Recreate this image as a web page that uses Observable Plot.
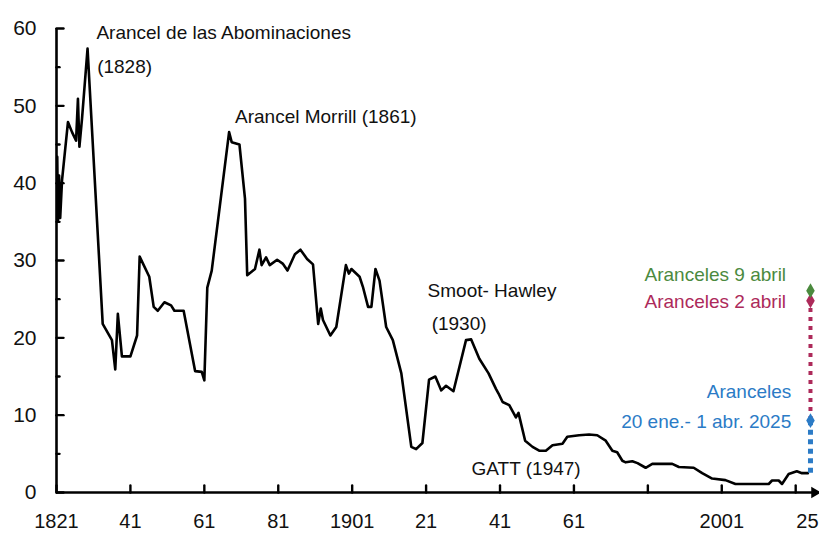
<!DOCTYPE html>
<html>
<head>
<meta charset="utf-8">
<script src="https://cdn.jsdelivr.net/npm/d3@7"></script>
<script src="https://cdn.jsdelivr.net/npm/@observablehq/plot@0.6"></script>
<style>
  html, body { margin: 0; padding: 0; background: #fff; }
  svg { display: block; }
</style>
</head>
<body>
<div id="chart"></div>
<script>
// Average US tariff rate (%)
const years = [
  1821.2, 1821.4, 1821.7, 1822.0, 1822.5, 1824.1, 1825.2, 1826.3, 1826.8, 1827.2,
  1827.9, 1829.4, 1833.5, 1836.0, 1836.9, 1837.6, 1838.7, 1841.0, 1842.8, 1843.5,
  1846.1, 1847.3, 1848.4, 1850.2, 1852.0, 1852.9, 1855.4, 1858.5, 1860.3, 1861.0,
  1861.8, 1863.0, 1867.7, 1868.4, 1870.5, 1872.0, 1872.6, 1874.7, 1875.9, 1876.5,
  1877.7, 1878.7, 1880.7, 1882.2, 1883.5, 1885.5, 1887.0, 1888.8, 1890.4, 1891.8,
  1892.5, 1893.1, 1895.1, 1896.7, 1899.3, 1900.1, 1900.8, 1903.0, 1903.9, 1905.3,
  1906.2, 1907.3, 1908.4, 1910.2, 1912.0, 1914.3, 1917.0, 1918.3, 1920.0, 1921.8,
  1923.5, 1925.1, 1926.4, 1928.4, 1931.8, 1933.2, 1935.4, 1937.9, 1939.9, 1940.6,
  1941.7, 1943.5, 1945.3, 1946.0, 1947.8, 1949.8, 1951.6, 1953.4, 1955.2, 1957.9,
  1959.2, 1962.4, 1965.1, 1967.3, 1969.6, 1971.4, 1972.7, 1974.1, 1975.0, 1976.8,
  1978.2, 1980.4, 1982.2, 1987.6, 1989.4, 1993.4, 1995.7, 1998.4, 2002.0, 2004.7,
  2013.7, 2014.6, 2016.4, 2017.3, 2019.1, 2021.3, 2022.7, 2024.3
];
const values = [
  43.4, 35.2, 41.0, 35.5, 40.4, 47.9, 46.6, 45.5, 50.9, 44.7,
  48.3, 57.4, 21.8, 19.7, 15.9, 23.1, 17.6, 17.6, 20.3, 30.5,
  27.9, 24.0, 23.5, 24.6, 24.2, 23.5, 23.5, 15.7, 15.6, 14.5,
  26.5, 28.7, 46.6, 45.3, 45.0, 38.0, 28.1, 28.9, 31.4, 29.4,
  30.4, 29.4, 30.1, 29.6, 28.7, 30.8, 31.4, 30.2, 29.5, 21.8,
  23.8, 22.3, 20.3, 21.4, 29.4, 28.3, 28.9, 27.9, 26.6, 24.0,
  24.0, 28.9, 27.4, 21.4, 19.7, 15.4, 5.9, 5.6, 6.4, 14.6,
  15.0, 13.2, 13.8, 13.1, 19.7, 19.8, 17.3, 15.4, 13.4, 12.8,
  11.7, 11.3, 9.7, 10.3, 6.7, 5.9, 5.4, 5.4, 6.1, 6.3,
  7.2, 7.4, 7.5, 7.4, 6.7, 5.4, 5.2, 4.1, 3.9, 4.05,
  3.8, 3.2, 3.7, 3.7, 3.3, 3.2, 2.5, 1.8, 1.6, 1.1,
  1.1, 1.55, 1.55, 1.1, 2.4, 2.75, 2.5, 2.5
];

// 2025 scenarios
const scenarioYear = 2025;
const scenarioNames = ["Aranceles 20 ene.- 1 abr. 2025", "Aranceles 2 abril", "Aranceles 9 abril"];
const scenarioValues = [9.3, 24.8, 26.1];
const scenarioColors = ["#2b7bc6", "#ad2a5a", "#4b8a3e"];

// Axis ticks and labels
const yMajorTicks = [0, 10, 20, 30, 40, 50, 60];
const yMinorTicks = [5, 15, 25, 35, 45, 55];
const xTickYears = [1821, 1841, 1861, 1881, 1901, 1921, 1941, 1961, 1981, 2001, 2021];
const xLabelYears = [1821, 1841, 1861, 1881, 1901, 1921, 1941, 1961, 2001];
const xLabelTexts = ["1821", "41", "61", "81", "1901", "21", "41", "61", "2001"];
const xLastLabelYear = 2025;
const xLastLabelText = "25";
const xDomain = [1821, 2026.9];
const yDomain = [0, 60];

// Annotations anchored in data space
const noteYears = [1831.8, 1832.0, 1869.3, 1921.4, 1922.5, 1933.3];
const noteValues = [58.7, 54.3, 47.8, 25.3, 21.0, 2.2];
const noteTexts = ["Arancel de las Abominaciones", "(1828)", "Arancel Morrill (1861)", "Smoot- Hawley", "(1930)", "GATT (1947)"];

const scenarioLabelYears = [2019.8, 2019.8, 2018.4, 2018.4];
const scenarioLabelValues = [8.4, 12.2, 23.8, 27.4];
const scenarioLabelTexts = ["20 ene.- 1 abr. 2025", "Aranceles", "Aranceles 2 abril", "Aranceles 9 abril"];
const scenarioLabelColorIdx = [0, 0, 1, 2];

// ---- build tables ----
const series = years.map((y, i) => ({year: y, value: values[i]}));
const lastValue = values[values.length - 1];
const scenarios = scenarioNames.map((n, i) => ({name: n, value: scenarioValues[i], color: scenarioColors[i]}));
const notes = noteTexts.map((t, i) => ({year: noteYears[i], value: noteValues[i], text: t}));
const scenLabels = scenarioLabelTexts.map((t, i) => ({year: scenarioLabelYears[i], value: scenarioLabelValues[i], text: t, color: scenarioColors[scenarioLabelColorIdx[i]]}));
const labelMap = new Map(xLabelYears.map((y, i) => [y, xLabelTexts[i]]));

const FONT = "'Liberation Sans', Arial, sans-serif";
const tickLine = {draw(ctx, l) { ctx.moveTo(0, 0); ctx.lineTo(0, -l); }};

const chart = Plot.plot({
  width: 819,
  height: 533,
  marginLeft: 56,
  marginRight: 2,
  marginTop: 28,
  marginBottom: 41,
  style: {fontFamily: FONT, background: "#fff", color: "#000"},
  x: {domain: xDomain, axis: null},
  y: {domain: yDomain, axis: null},
  marks: [
    // axis lines
    Plot.ruleX([xDomain[0]], {stroke: "black", strokeWidth: 2.6}),
    Plot.ruleY([yDomain[0]], {stroke: "black", strokeWidth: 2.6}),
    Plot.dot([xDomain[1]], {x: d => d, y: () => yDomain[0], symbol: "triangle", rotate: 90, r: 4.2, fill: "black", stroke: "none", dx: -3}),
    // tick marks (inside)
    Plot.vector(yMajorTicks, {x: () => xDomain[0], y: d => d, length: 7, rotate: 90, anchor: "start", shape: tickLine, stroke: "black", strokeWidth: 2.4}),
    Plot.vector(yMinorTicks, {x: () => xDomain[0], y: d => d, length: 3, rotate: 90, anchor: "start", shape: tickLine, stroke: "black", strokeWidth: 2.4}),
    Plot.vector(xTickYears, {x: d => d, y: () => yDomain[0], length: 7, rotate: 0, anchor: "start", shape: tickLine, stroke: "black", strokeWidth: 2.4}),
    // tick labels
    Plot.axisY({ticks: yMajorTicks, tickSize: 0, tickPadding: 20, fontSize: 21, label: null, fill: "#111"}),
    Plot.axisX({ticks: xLabelYears, tickSize: 0, tickPadding: 21, fontSize: 20, label: null, tickFormat: d => labelMap.get(d), fill: "#111"}),
    Plot.axisX({ticks: [xLastLabelYear], tickSize: 0, tickPadding: 21, fontSize: 20, label: null, tickFormat: () => xLastLabelText, fill: "#111", dx: -3}),
    // main series
    Plot.line(series, {x: "year", y: "value", stroke: "black", strokeWidth: 2.6, strokeLinejoin: "round"}),
    // 2025 scenario segments
    Plot.ruleX([scenarios[0]], {x: () => scenarioYear, y1: () => lastValue, y2: "value", stroke: scenarioColors[0], strokeWidth: 5, strokeDasharray: "5,4.5"}),
    Plot.ruleX([scenarios[1]], {x: () => scenarioYear, y1: () => scenarioValues[0], y2: "value", stroke: scenarioColors[1], strokeWidth: 4, strokeDasharray: "4,5"}),
    Plot.dot(scenarios, {x: () => scenarioYear, y: "value", symbol: "diamond", r: 4.5, fill: "color", stroke: "none"}),
    // annotations
    Plot.text(notes, {x: "year", y: "value", text: "text", textAnchor: "start", lineAnchor: "bottom", fontSize: 19, fill: "#111"}),
    Plot.text(scenLabels, {x: "year", y: "value", text: "text", textAnchor: "end", lineAnchor: "bottom", fontSize: 19, fill: "color"})
  ]
});

document.getElementById("chart").appendChild(chart);
</script>
</body>
</html>
